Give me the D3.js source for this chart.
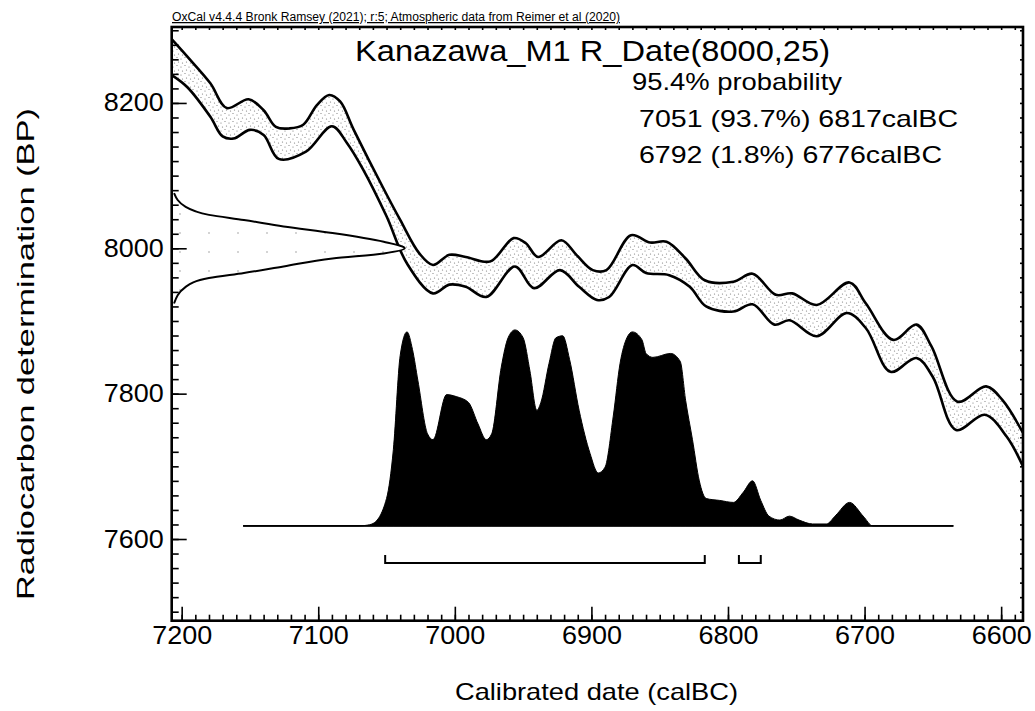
<!DOCTYPE html>
<html>
<head>
  <title>Kanazawa_M1 R_Date</title>
  <script src="https://d3js.org/d3.v7.min.js"></script>
  <style>
    body { margin: 0; background: #fff; }
    text { font-family: "Liberation Sans", Arial, sans-serif; fill: #000; }
  </style>
</head>
<body>
  <div id="chart"></div>

  <script>
    // calibration curve, upper and lower 1 sigma edges: [calBC, BP]
    var curveUpper = [
      [7207, 8287], [7196, 8264], [7179, 8227], [7167, 8193], [7151, 8205], [7140, 8190],
      [7131, 8167], [7121, 8165], [7111, 8170], [7101, 8197], [7092, 8211], [7084, 8202],
      [7074, 8163], [7053, 8085], [7040, 8039], [7026, 7993], [7016, 7977], [7004, 7991],
      [6992, 7988], [6974, 7982], [6957, 8014], [6948, 8007], [6939, 7988], [6922, 8011],
      [6911, 7991], [6899, 7970], [6889, 7970], [6871, 8018], [6857, 8008], [6845, 8009],
      [6831, 7986], [6817, 7956], [6796, 7954], [6782, 7965], [6765, 7936], [6753, 7938],
      [6735, 7922], [6711, 7953], [6699, 7924], [6679, 7874], [6662, 7895], [6651, 7865],
      [6632, 7789], [6611, 7810], [6599, 7791], [6584, 7746]
    ];
    var curveLower = [
      [7207, 8238], [7196, 8222], [7179, 8181], [7170, 8154], [7162, 8151], [7150, 8163],
      [7140, 8156], [7129, 8123], [7109, 8133], [7090, 8168], [7079, 8145],
      [7067, 8108], [7050, 8044], [7035, 7979], [7016, 7938], [7004, 7950], [6992, 7947],
      [6977, 7933], [6956, 7975], [6942, 7945], [6923, 7970], [6909, 7947], [6896, 7929],
      [6887, 7933], [6870, 7977], [6860, 7966], [6843, 7963], [6828, 7947], [6816, 7920],
      [6796, 7913], [6782, 7923], [6766, 7895], [6755, 7901], [6735, 7879], [6713, 7911],
      [6699, 7890], [6681, 7830], [6662, 7849], [6650, 7823], [6633, 7750], [6612, 7771],
      [6596, 7741], [6584, 7700]
    ];

    // measured radiocarbon date 8000 +/- 25 BP (relative probability)
    var radioBP   = [7924, 7947, 7959, 7966, 7975, 7986, 7993, 8000, 8009, 8021, 8030, 8039, 8046, 8057, 8076];
    var radioProb = [0.01, 0.06, 0.16, 0.31, 0.48, 0.69, 0.91, 1.00, 0.91, 0.69, 0.48, 0.31, 0.16, 0.06, 0.01];

    // calibrated distribution (relative probability)
    var calYear = [7155, 7070, 7065, 7060, 7050, 7045, 7040, 7035, 7031, 7027, 7020, 7016, 7006, 6999,
      6990, 6983, 6977, 6973, 6966, 6961, 6956, 6950, 6945, 6940, 6937, 6931, 6926, 6921, 6916, 6909,
      6901, 6895, 6890, 6884, 6879, 6874, 6870, 6863, 6860, 6855, 6842, 6835, 6831, 6826, 6821, 6816,
      6806, 6796, 6789, 6782, 6776, 6770, 6762, 6755, 6748, 6738, 6728, 6721, 6711, 6701, 6694, 6635];
    var calProb = [0, 0, 0.003, 0.012, 0.14, 0.39, 0.87, 0.99, 0.90, 0.74, 0.47, 0.44, 0.67, 0.66,
      0.63, 0.52, 0.44, 0.47, 0.81, 0.96, 1.00, 0.96, 0.79, 0.59, 0.63, 0.83, 0.96, 0.97, 0.85, 0.59,
      0.37, 0.27, 0.30, 0.56, 0.83, 0.96, 0.99, 0.95, 0.88, 0.86, 0.88, 0.84, 0.64, 0.44, 0.23, 0.14,
      0.13, 0.12, 0.17, 0.23, 0.13, 0.05, 0.03, 0.05, 0.03, 0.01, 0.01, 0.055, 0.12, 0.05, 0, 0];

    // 95.4% ranges
    var rangeFrom = [7051, 6792];
    var rangeTo   = [6817, 6776];
    var rangePct  = ['93.7%', '1.8%'];

    var xTicks = [7200, 7100, 7000, 6900, 6800, 6700, 6600];
    var yTicks = [7600, 7800, 8000, 8200];

    var width = 1035, height = 711;
    var svg = d3.select('#chart').append('svg')
      .attr('width', width)
      .attr('height', height);

    var defs = svg.append('defs');
    var stip = defs.append('pattern')
      .attr('id', 'stip').attr('patternUnits', 'userSpaceOnUse')
      .attr('width', 8).attr('height', 8);
    stip.append('rect').attr('width', 8).attr('height', 8).attr('fill', '#fff');
    [[1, 1.5], [5, 3], [2.5, 6], [6.5, 7]].forEach(function(p) {
      stip.append('circle').attr('cx', p[0]).attr('cy', p[1]).attr('r', 0.6).attr('fill', '#777');
    });
    var sparse = defs.append('pattern')
      .attr('id', 'sparse').attr('patternUnits', 'userSpaceOnUse')
      .attr('width', 29).attr('height', 19);
    sparse.append('rect').attr('width', 29).attr('height', 19).attr('fill', '#fff');
    sparse.append('circle').attr('cx', 6).attr('cy', 5).attr('r', 0.7).attr('fill', '#888');

    // plot frame (window.top is reserved, so use own names)
    var pLeft = 171.7, pRight = 1023, pTop = 27, pBottom = 620.7;
    var x = d3.scaleLinear().domain([7207.3, 6584]).range([pLeft, pRight]);
    var y = d3.scaleLinear().domain([7487.6, 8304.5]).range([pBottom, pTop]);

    // calibrated distribution sits on 7618 BP, peak 196px high
    var pY = d3.scaleLinear().domain([0, 1]).range([y(7618), y(7618) - 196]);
    // radiocarbon gaussian drawn sideways from the y axis
    var gX = d3.scaleLinear().domain([0, 1]).range([pLeft, pLeft + 233]);

    var plot = svg.append('g');

    // calibration band
    var line = d3.line()
      .x(function(d) { return x(d[0]); })
      .y(function(d) { return y(d[1]); })
      .curve(d3.curveCatmullRom.alpha(0.5));
    var bandPath = line(curveUpper) + 'L' + line(curveLower.slice().reverse()).slice(1) + 'Z';
    plot.append('path')
      .attr('d', bandPath)
      .attr('fill', 'url(#stip)');
    plot.append('path').attr('d', line(curveUpper))
      .attr('fill', 'none').attr('stroke', '#000').attr('stroke-width', 2.6);
    plot.append('path').attr('d', line(curveLower))
      .attr('fill', 'none').attr('stroke', '#000').attr('stroke-width', 2.6);

    // radiocarbon gaussian
    var gauss = radioBP.map(function(b, i) { return [b, radioProb[i]]; });
    var gArea = d3.area()
      .y(function(d) { return y(d[0]); })
      .x0(pLeft)
      .x1(function(d) { return gX(d[1]); })
      .curve(d3.curveMonotoneY);
    plot.append('path')
      .attr('d', gArea(gauss))
      .attr('fill', 'url(#sparse)')
      .attr('stroke', 'none');
    plot.append('path')
      .attr('d', gArea.lineX1()(gauss))
      .attr('fill', 'none')
      .attr('stroke', '#000')
      .attr('stroke-width', 2);

    // calibrated distribution
    var cal = calYear.map(function(yr, i) { return [yr, calProb[i]]; });
    var cArea = d3.area()
      .x(function(d) { return x(d[0]); })
      .y0(pY(0))
      .y1(function(d) { return pY(d[1]); })
      .curve(d3.curveMonotoneX);
    plot.append('path')
      .attr('d', cArea(cal))
      .attr('fill', '#000')
      .attr('stroke', '#000')
      .attr('stroke-width', 1);
    plot.append('line')
      .attr('x1', x(calYear[0])).attr('x2', x(calYear[calYear.length - 1]))
      .attr('y1', pY(0)).attr('y2', pY(0))
      .attr('stroke', '#000').attr('stroke-width', 1.8);

    // range brackets
    var by = y(7567);
    rangeFrom.forEach(function(f, i) {
      plot.append('path')
        .attr('d', 'M' + x(f) + ',' + (by - 8) + 'V' + by + 'H' + x(rangeTo[i]) + 'V' + (by - 8))
        .attr('fill', 'none')
        .attr('stroke', '#000')
        .attr('stroke-width', 2);
    });

    // axes: inward ticks
    var xMinor = d3.range(7200, 6580, -10);
    var yMinor = d3.range(7500, 8301, 20);

    svg.append('g').attr('transform', 'translate(0,' + pBottom + ')')
      .call(d3.axisTop(x).tickValues(xMinor).tickSize(6).tickFormat(''));
    svg.append('g').attr('transform', 'translate(0,' + pBottom + ')')
      .call(d3.axisTop(x).tickValues(xTicks).tickSize(14).tickFormat(''));
    svg.append('g').attr('transform', 'translate(0,' + pTop + ')')
      .call(d3.axisBottom(x).tickValues(xMinor).tickSize(3).tickFormat(''));
    svg.append('g').attr('transform', 'translate(' + pLeft + ',0)')
      .call(d3.axisRight(y).tickValues(yMinor).tickSize(7).tickFormat(''));
    svg.append('g').attr('transform', 'translate(' + pLeft + ',0)')
      .call(d3.axisRight(y).tickValues(yTicks).tickSize(15).tickFormat(''));
    svg.append('g').attr('transform', 'translate(' + pRight + ',0)')
      .call(d3.axisLeft(y).tickValues(yMinor).tickSize(3).tickFormat(''));
    svg.selectAll('.domain').remove();
    svg.selectAll('.tick line').attr('stroke', '#000').attr('stroke-width', 1.6);

    var xLab = svg.append('g').attr('transform', 'translate(0,' + pBottom + ')')
      .call(d3.axisBottom(x).tickValues(xTicks).tickSize(0).tickPadding(5.5).tickFormat(d3.format('d')));
    var yLab = svg.append('g').attr('transform', 'translate(' + pLeft + ',0)')
      .call(d3.axisLeft(y).tickValues(yTicks).tickSize(0).tickPadding(8).tickFormat(d3.format('d')));
    xLab.select('.domain').remove();
    yLab.select('.domain').remove();
    svg.selectAll('.tick text')
      .attr('font-family', '"Liberation Sans", Arial, sans-serif')
      .attr('font-size', 25)
      .attr('fill', '#000')
      .attr('textLength', 60)
      .attr('lengthAdjust', 'spacingAndGlyphs');

    // frame
    svg.append('rect')
      .attr('x', pLeft).attr('y', pTop)
      .attr('width', pRight - pLeft).attr('height', pBottom - pTop)
      .attr('fill', 'none')
      .attr('stroke', '#000')
      .attr('stroke-width', 2.6);

    // texts
    function txt(s, tx, ty, size, len, anchor) {
      return svg.append('text')
        .attr('x', tx).attr('y', ty)
        .attr('font-size', size)
        .attr('text-anchor', anchor || 'start')
        .attr('textLength', len)
        .attr('lengthAdjust', 'spacingAndGlyphs')
        .text(s);
    }
    txt('OxCal v4.4.4 Bronk Ramsey (2021); r:5; Atmospheric data from Reimer et al (2020)', 172, 21, 12.5, 448)
      .attr('text-decoration', 'underline');
    txt('Kanazawa_M1 R_Date(8000,25)', 355, 61, 30, 475);
    txt('95.4% probability', 632, 90, 24, 210);
    rangeFrom.forEach(function(f, i) {
      txt(f + ' (' + rangePct[i] + ') ' + rangeTo[i] + 'calBC', 639, 127 + i * 36, 24, i === 0 ? 319 : 303);
    });
    txt('Calibrated date (calBC)', 455, 700, 24, 283);
    txt('Radiocarbon determination (BP)', 0, 0, 24, 492)
      .attr('transform', 'translate(34,600) rotate(-90)');
  </script>
</body>
</html>
